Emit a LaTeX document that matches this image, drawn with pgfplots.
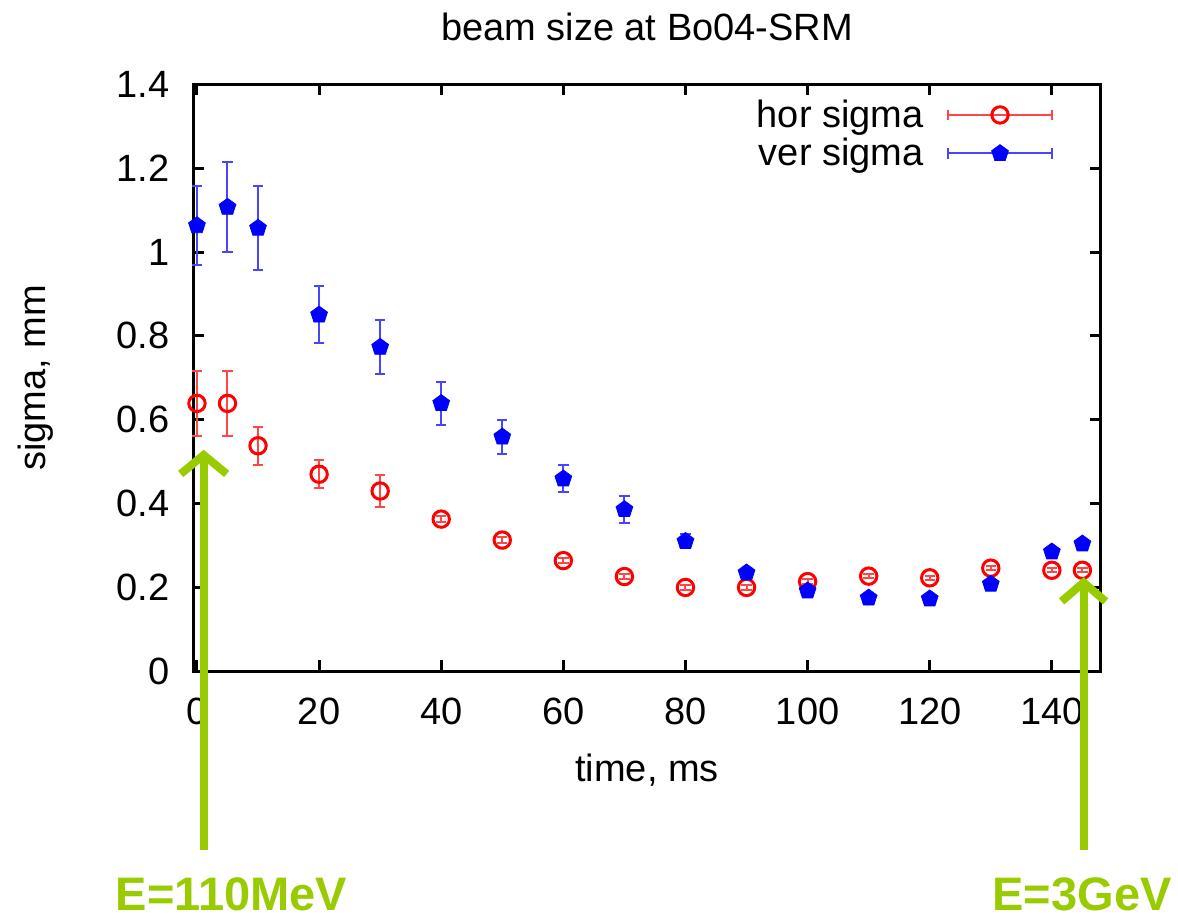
\documentclass[border=0pt]{standalone}
\usepackage{pgfplots}
\pgfplotsset{compat=1.18}
\usepackage{pgfplotstable}
\usepackage{fontspec}
\setmainfont{Liberation Sans}
\definecolor{egreen}{RGB}{153,204,0}
\definecolor{errred}{RGB}{255,70,70}
\definecolor{errblue}{RGB}{70,70,255}

\pgfplotstableread{
x y ey
0 0.639 0.078
5 0.639 0.078
10 0.538 0.045
20 0.470 0.033
30 0.430 0.038
40 0.363 0.008
50 0.313 0.008
60 0.264 0.006
70 0.226 0.006
80 0.200 0.005
90 0.200 0.005
100 0.214 0.005
110 0.227 0.005
120 0.223 0.005
130 0.246 0.005
140 0.241 0.005
145 0.241 0.005
}\hor

\pgfplotstableread{
x y ey
0 1.063 0.094
5 1.107 0.107
10 1.057 0.100
20 0.850 0.068
30 0.773 0.065
40 0.639 0.051
50 0.559 0.040
60 0.459 0.032
70 0.386 0.032
80 0.310 0.017
90 0.235 0.005
100 0.192 0.005
110 0.175 0.005
120 0.173 0.005
130 0.208 0.005
140 0.285 0.005
145 0.304 0.005
}\ver

\begin{document}
\begin{tikzpicture}
\begin{axis}[
  at={(96.65pt,123.35pt)}, anchor=south west,
  scale only axis, width=453.7pt, height=293.5pt,
  xmin=-0.6, xmax=148, ymin=0, ymax=1.4,
  xtick={0,20,40,60,80,100,120,140},
  ytick={0,0.2,0.4,0.6,0.8,1,1.2,1.4},
  font=\fontsize{19}{22}\selectfont,
  /pgf/number format/assume math mode=true,
  tick align=inside, major tick length=5.5pt,
  tick style={line width=1.5pt, black},
  axis line style={line width=1.5pt},
  xticklabel style={anchor=base, yshift=-26.5pt, inner sep=0pt},
  yticklabel style={anchor=east, xshift=-11.65pt, inner sep=0pt},
  title={beam size at Bo04-SRM},
  title style={at={(0.5,1.0535)}, anchor=base, inner sep=0pt},
  xlabel={time, ms},
  xlabel style={at={(0.5,-0.1884)}, anchor=base, inner sep=0pt},
  ylabel={sigma, mm},
  ylabel style={at={(-0.1741,0.5)}, anchor=center, inner sep=0pt},
  clip=false,
  legend plot pos=right,
  legend cell align=right,
  legend style={at={(axis description cs:0.9479,0.9745)}, anchor=north east,
    draw=none, fill=none, inner sep=0pt, row sep=4pt,
    nodes={inner sep=0pt}},
]
\addplot[only marks, mark=o, red, mark size=4.1pt, mark options={line width=1.5pt},
  legend image code/.code={
    \path (0pt,0pt);
    \draw[errred, line width=1pt] (12pt,0pt) -- (64pt,0pt)
      (12pt,-2.6pt) -- (12pt,2.6pt) (64pt,-2.6pt) -- (64pt,2.6pt);
    \draw[red, mark=o, mark size=4.1pt, mark options={line width=1.5pt}] plot coordinates {(38pt,0pt)};
  },
  error bars/.cd, y dir=both, y explicit,
  error bar style={line width=1pt, errred},
  error mark options={rotate=90, mark size=2.6pt, line width=1pt, errred}]
  table[x=x, y=y, y error=ey] {\hor};
\addlegendentry{hor sigma}
\addplot[only marks, mark=pentagon*, blue, mark size=4.4pt,
  legend image code/.code={
    \path (0pt,0pt);
    \draw[errblue, line width=1pt] (12pt,0pt) -- (64pt,0pt)
      (12pt,-2.6pt) -- (12pt,2.6pt) (64pt,-2.6pt) -- (64pt,2.6pt);
    \draw[blue, mark=pentagon*, mark size=4.4pt] plot coordinates {(38pt,0pt)};
  },
  error bars/.cd, y dir=both, y explicit,
  error bar style={line width=1pt, errblue},
  error mark options={rotate=90, mark size=2.6pt, line width=1pt, errblue}]
  table[x=x, y=y, y error=ey] {\ver};
\addlegendentry{ver sigma}
\coordinate (LA) at (axis cs:1.1,0.516);
\coordinate (LB) at (axis cs:1.1,-0.426);
\coordinate (RA) at (axis cs:145.2,0.212);
\coordinate (RB) at (axis cs:145.2,-0.426);
\end{axis}
\begin{scope}[egreen, line width=4pt]
\draw[line cap=butt] (LB) -- (LA);
\draw[line cap=butt, line join=miter] ([xshift=-11.5pt,yshift=-9.5pt]LA) -- (LA) -- ([xshift=11.5pt,yshift=-9.5pt]LA);
\draw[line cap=butt] (RB) -- (RA);
\draw[line cap=butt, line join=miter] ([xshift=-11pt,yshift=-9.5pt]RA) -- (RA) -- ([xshift=11pt,yshift=-9.5pt]RA);
\end{scope}
\node[anchor=base, inner sep=0pt, text=egreen, font=\fontsize{23.5}{26}\selectfont\bfseries] at (115.75pt,4pt) {E=110MeV};
\node[anchor=base, inner sep=0pt, text=egreen, font=\fontsize{23.5}{26}\selectfont\bfseries] at (541pt,4pt) {E=3GeV};
\pgfresetboundingbox
\useasboundingbox (0,0) rectangle (589pt,459pt);
\end{tikzpicture}
\end{document}
